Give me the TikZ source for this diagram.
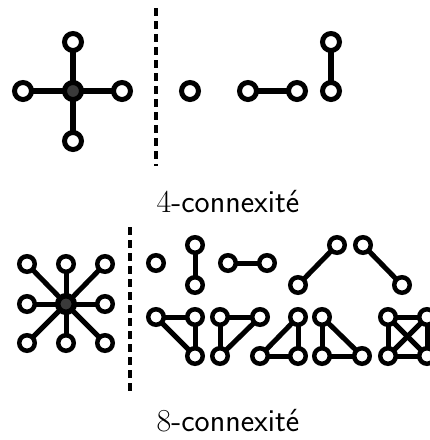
\documentclass[tikz,border=0pt]{standalone}
\usepackage{fontspec}
\usepackage{tikz}
\usetikzlibrary{positioning}
\definecolor{ink}{HTML}{000000}
\definecolor{core}{HTML}{3A3A3A}

\begin{document}
\begin{tikzpicture}[
  x=1pt, y=-1pt,
  font=\sffamily,
  pix/.style={
    circle, draw=ink, fill=white,
    line width=5pt, minimum size=17pt, inner sep=0pt
  },
  pixs/.style={pix, line width=4.5pt, minimum size=15.5pt},
  centre/.style={pix, fill=core},
  link/.style={draw=ink, line width=5.5pt, shorten <=-2pt, shorten >=-2pt},
  links/.style={link, line width=5pt},
  sep/.style={draw=ink, line width=3.5pt, dash pattern=on 8pt off 5pt},
  caption/.style={font=\sffamily\fontsize{32}{38}\selectfont, color=ink}
]
\useasboundingbox (0,0) rectangle (430,440);

% 4-connexity neighbourhood
\node[centre] (c4) at (73,91) {};
\node[pix] (c4t) at (73,42) {};
\node[pix] (c4b) at (73,141) {};
\node[pix] (c4l) at (23,91) {};
\node[pix] (c4r) at (122,91) {};
\foreach \n in {c4t, c4b, c4l, c4r} {
  \draw[link] (c4) -- (\n);
}

% Separator
\coordinate (s4a) at (156,8);
\coordinate (s4b) at (156,166);
\draw[sep] (s4a) -- (s4b);

% 4-connected components
\node[pix] (a1) at (190,91) {};
\node[pix] (b1) at (248,91) {};
\node[pix] (b2) at (297,91) {};
\node[pix] (d1) at (331,91) {};
\node[pix] (d2) at (331,42) {};
\draw[link] (b1) -- (b2);
\draw[link] (d1) -- (d2);

\node[caption] (l4) at (228,202) {{\rmfamily 4}-connexité};

% 8-connexity neighbourhood
\node[centre] (c8) at (66,304) {};
\foreach \x/\y/\k in {27/264/1, 66/264/2, 105/264/3, 27/304/4, 105/304/5, 27/343/6, 66/343/7, 105/343/8} {
  \node[pixs] (c8n\k) at (\x,\y) {};
}
\foreach \k in {1,...,8} {
  \draw[links] (c8) -- (c8n\k);
}
\node[centre, line width=4.5pt, minimum size=15.5pt] at (c8) {};

% Separator
\coordinate (s8a) at (130,227);
\coordinate (s8b) at (130,393);
\draw[sep] (s8a) -- (s8b);

% 8-connected components, first row
\node[pixs] (p1) at (156,263) {};
\node[pixs] (q1) at (195,245) {};
\node[pixs] (q2) at (195,285) {};
\node[pixs] (h1) at (228,263) {};
\node[pixs] (h2) at (267,263) {};
\node[pixs] (u1) at (298,285) {};
\node[pixs] (u2) at (337,245) {};
\node[pixs] (v1) at (363,245) {};
\node[pixs] (v2) at (402,285) {};

% second row
\node[pixs] (t1a) at (156,317) {};
\node[pixs] (t1b) at (195,317) {};
\node[pixs] (t1c) at (195,356) {};
\node[pixs] (t2a) at (220,317) {};
\node[pixs] (t2b) at (260,317) {};
\node[pixs] (t2c) at (220,356) {};
\node[pixs] (t3a) at (298,317) {};
\node[pixs] (t3b) at (260,356) {};
\node[pixs] (t3c) at (298,356) {};
\node[pixs] (t4a) at (322,317) {};
\node[pixs] (t4b) at (322,356) {};
\node[pixs] (t4c) at (362,356) {};
\node[pixs] (k1) at (388,317) {};
\node[pixs] (k2) at (427,317) {};
\node[pixs] (k3) at (388,356) {};
\node[pixs] (k4) at (427,356) {};

\foreach \a/\b in {q1/q2, h1/h2, u1/u2, v1/v2,
                   t1a/t1b, t1b/t1c, t1a/t1c,
                   t2a/t2b, t2a/t2c, t2b/t2c,
                   t3a/t3b, t3b/t3c, t3a/t3c,
                   t4a/t4b, t4b/t4c, t4a/t4c,
                   k1/k2, k2/k4, k4/k3, k3/k1, k1/k4, k2/k3} {
  \draw[links] (\a) -- (\b);
}

\node[caption] (l8) at (228,421) {{\rmfamily 8}-connexité};

\end{tikzpicture}
\end{document}
